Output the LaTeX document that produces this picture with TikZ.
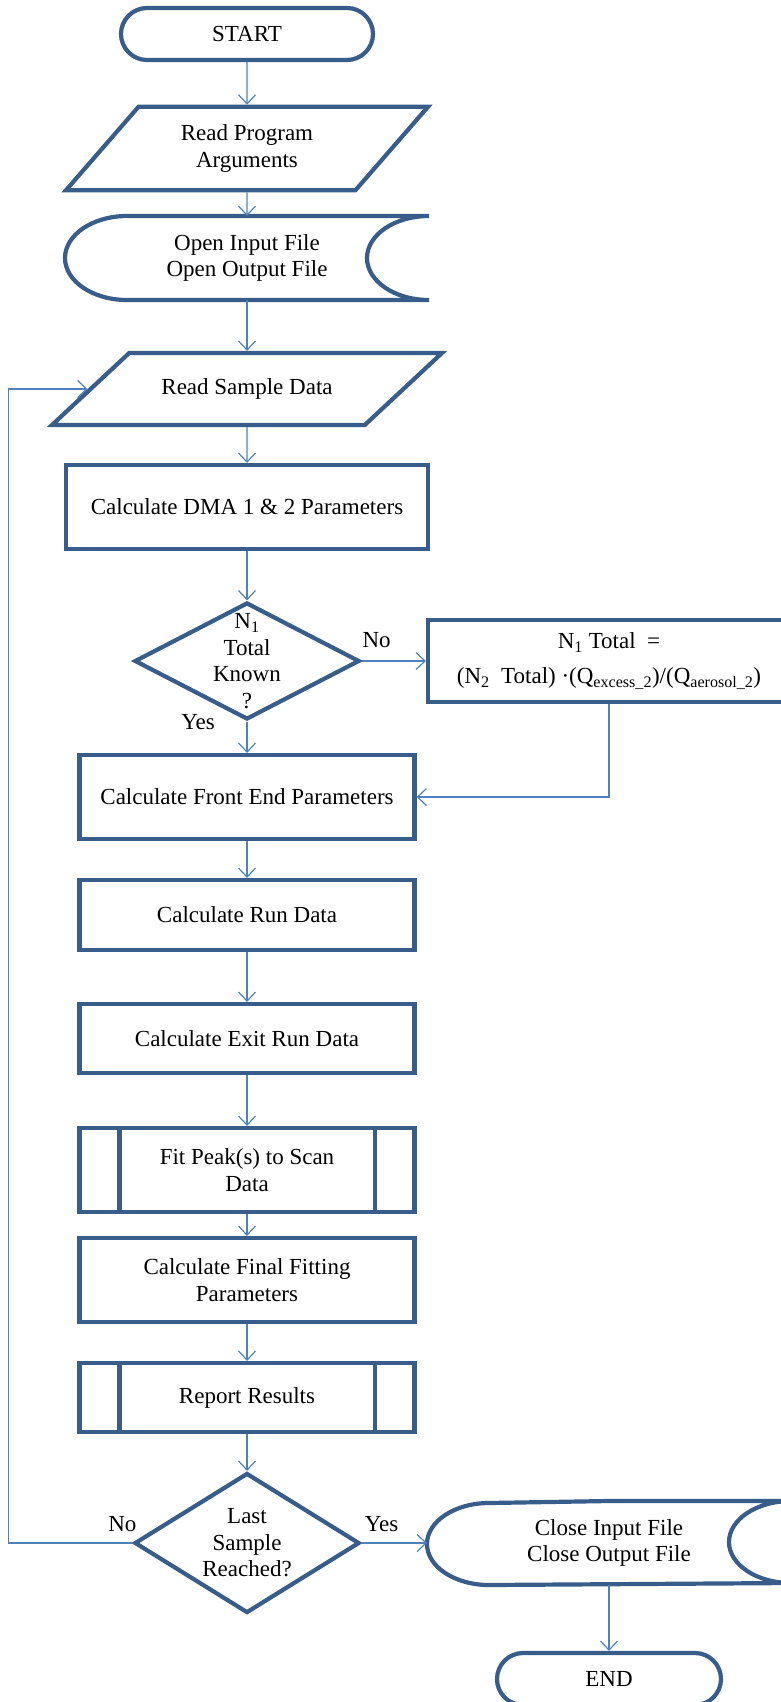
\documentclass[tikz,border=0pt]{standalone}
\usepackage{fontspec}
\setmainfont{Liberation Serif}
\usetikzlibrary{positioning,shapes.geometric,arrows.meta}

\definecolor{shapeblue}{HTML}{385D8A}
\definecolor{linkblue}{HTML}{4F81BD}

\tikzset{
  outline/.style={draw=shapeblue, line width=4.2pt},
  base/.style={outline, align=center, inner sep=2pt, font=\fontsize{23}{26.5}\selectfont},
  terminal/.style={base, rectangle, rounded corners=26pt, minimum width=252pt, minimum height=52pt},
  io/.style={base, trapezium, trapezium stretches body=true},
  process/.style={base, rectangle, minimum width=335pt, minimum height=84pt},
  subproc/.style={process},
  decision/.style={base, diamond, minimum width=225pt, inner sep=0pt},
  datafile/.style={base, draw=none, outer sep=0pt, rectangle, minimum width=364pt, minimum height=84pt},
  tag/.style={font=\fontsize{23}{26.5}\selectfont, align=center, inner sep=0pt},
  link/.style={color=linkblue, draw=linkblue, line width=1.2pt, -{Straight Barb[length=9pt,width=17pt]}}
}

\begin{document}
\begin{tikzpicture}[node distance=120pt, on grid]
 \useasboundingbox (0,0) rectangle (781pt,-1702pt);

 % main column
 \node[terminal] (start) at (247pt,-34pt) {START};
 \node[io, trapezium left angle=49, trapezium right angle=131, minimum width=362pt, inner ysep=18pt]
   (readargs) [below=114.5pt of start] {Read Program\\Arguments};
 \node[datafile] (openf) [below=109.5pt of readargs] {Open Input File\\Open Output File};
 \node[io, trapezium left angle=43, trapezium right angle=137, minimum width=390pt,
   text height=16pt, text depth=5pt, inner ysep=25.5pt]
   (readsample) [below=131pt of openf] {Read Sample Data};
 \node[process, minimum width=362pt] (dma) [below=118pt of readsample] {Calculate DMA 1 \& 2 Parameters};
 \node[decision, minimum height=117pt] (known) [below=154pt of dma] {};
 \node[tag] (knowntext) at (known) {N\textsubscript{1}\\Total\\Known\\?};
 \node[process] (frontend) [below=136pt of known] {Calculate Front End Parameters};
 \node[process, minimum height=70pt] (rundata) [below=118pt of frontend] {Calculate Run Data};
 \node[process, minimum height=69pt] (exitrun) [below=123.5pt of rundata] {Calculate Exit Run Data};
 \node[subproc] (fitpeak) [below=131.5pt of exitrun] {Fit Peak(s) to Scan\\Data};
 \node[process] (final) [below=110pt of fitpeak] {Calculate Final Fitting\\Parameters};
 \node[subproc, minimum height=69pt] (report) [below=117.5pt of final] {Report Results};
 \node[decision, minimum height=140pt] (last) [below=145.5pt of report] {};
 \node[tag] (lasttext) at (last) {Last\\Sample\\Reached?};

 % right column
 \node[process, minimum width=362pt, minimum height=82pt] (ntotal) [right=362pt of known]
   {N\textsubscript{1} Total\enspace=\\[8pt](N\textsubscript{2}\enspace Total) ·(Q\textsubscript{excess\_2})/(Q\textsubscript{aerosol\_2})};
 \node[datafile] (close) [right=362pt of last] {Close Input File\\Close Output File};
 \node[terminal, minimum width=224pt] (end) [below=136pt of close] {END};

 % branch labels
 \node[tag] (knownno) at ([xshift=15pt,yshift=21pt]known.east) {No};
 \node[tag] (knownyes) at ([xshift=-49pt]known.south) {Yes};
 \node[tag] (lastno) at ([xshift=-10pt,yshift=19pt]last.west) {No};
 \node[tag] (lastyes) at ([xshift=20pt,yshift=19pt]last.east) {Yes};

 % file symbols
 \draw[outline] (openf.north) -- (openf.north east)
   arc[start angle=90, end angle=270, x radius=62pt, y radius=42pt]
   -- ([xshift=62pt]openf.south west)
   arc[start angle=270, end angle=90, x radius=62pt, y radius=42pt] -- cycle;
 \draw[outline] (close.north) -- (close.north east)
   arc[start angle=90, end angle=270, x radius=62pt, y radius=41pt]
   -- ([xshift=62pt]close.south west)
   arc[start angle=270, end angle=90, x radius=62pt, y radius=41pt] -- cycle;

 % side bars of the predefined processes
 \draw[outline] ([xshift=42pt]fitpeak.north west) -- ([xshift=42pt]fitpeak.south west)
   ([xshift=-42pt]fitpeak.north east) -- ([xshift=-42pt]fitpeak.south east);
 \draw[outline] ([xshift=42pt]report.north west) -- ([xshift=42pt]report.south west)
   ([xshift=-42pt]report.north east) -- ([xshift=-42pt]report.south east);

 % connectors
 \coordinate (back) at ([xshift=-124pt]last.west);
 \path[link]
 (start) edge (readargs)
 (readargs) edge (openf)
 (openf) edge (readsample)
 (readsample) edge (dma)
 (dma) edge (known)
 (known) edge (frontend) edge (ntotal)
 (frontend) edge (rundata)
 (rundata) edge (exitrun)
 (exitrun) edge (fitpeak)
 (fitpeak) edge (final)
 (final) edge (report)
 (report) edge (last)
 (last) edge (close)
 (close) edge (end)
 ;
 \draw[link] (ntotal.south) |- (frontend.east);
 \draw[link] (last.west) -- (back) |- (readsample.west);
\end{tikzpicture}
\end{document}
